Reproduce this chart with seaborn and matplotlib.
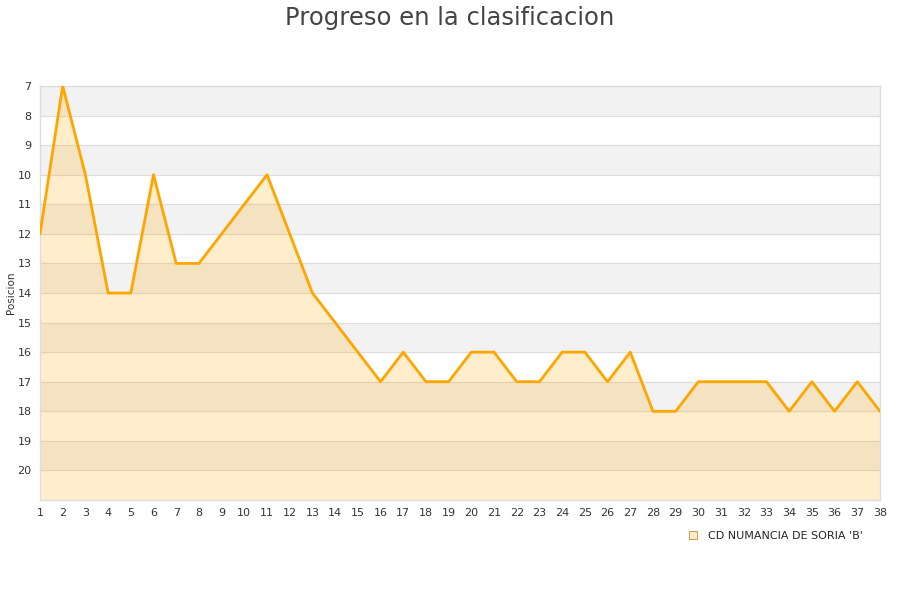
import matplotlib
matplotlib.use("Agg")
import matplotlib.pyplot as plt
import seaborn as sns
import pandas as pd
from matplotlib.lines import Line2D

jornadas = list(range(1, 39))
posicion = [12, 7, 10, 14, 14, 10, 13, 13, 12, 11, 10, 12, 14, 15, 16, 17, 16, 17, 17, 16,
            16, 17, 17, 16, 16, 17, 16, 18, 18, 17, 17, 17, 17, 18, 17, 18, 17, 18]
equipo = "CD NUMANCIA DE SORIA 'B'"
titulo = "Progreso en la clasificacion"
y_ticks = list(range(7, 21))

sns.set_theme(style="white")
plt.rcParams['font.family'] = ['DejaVu Sans']

df = pd.DataFrame({"Jornada": jornadas, "Posicion": posicion})

fig = plt.figure(figsize=(9, 6), dpi=100)
ax = fig.add_axes([40/900, 1 - 500/600, 840/900, 414/600])

# alternating bands
for k in range(7, 21):
    if (k - 7) % 2 == 0:
        ax.axhspan(k, k + 1, color="#f2f2f2", lw=0, zorder=0)
for k in range(8, 21):
    ax.axhline(k, color="#dddddd", lw=0.9, zorder=1)

ax.fill_between(df["Jornada"], df["Posicion"], 21, color="#ffa500", alpha=0.2, lw=0, zorder=2)
sns.lineplot(data=df, x="Jornada", y="Posicion", ax=ax, color="#ffa500", lw=2, zorder=3)

ax.set_xlim(1, 38)
ax.set_ylim(21, 7)
ax.set_xticks(jornadas)
ax.set_xticklabels([str(j) for j in jornadas], fontsize=8, color="#333333")
ax.set_yticks(y_ticks)
ax.set_yticklabels([str(y) for y in y_ticks], fontsize=8, color="#333333")
ax.tick_params(axis="both", length=0, pad=6)
ax.set_xlabel("")
ax.set_ylabel("Posicion", fontsize=7.5, color="#333333", labelpad=1)
for s in ax.spines.values():
    s.set_color("#dddddd")
    s.set_linewidth(1)

fig.suptitle(titulo, fontsize=17.5, color="#444444", y=0.99)

handle = Line2D([], [], marker="s", linestyle="none", markersize=6,
                markerfacecolor="#ffedcc", markeredgecolor="#cc9a50", markeredgewidth=0.7)
fig.legend([handle], [equipo], loc="center right", bbox_to_anchor=(868/900, 1 - 536/600),
           frameon=False, fontsize=8, handletextpad=0.3, borderpad=0)

fig.savefig("out.png", dpi=100)
